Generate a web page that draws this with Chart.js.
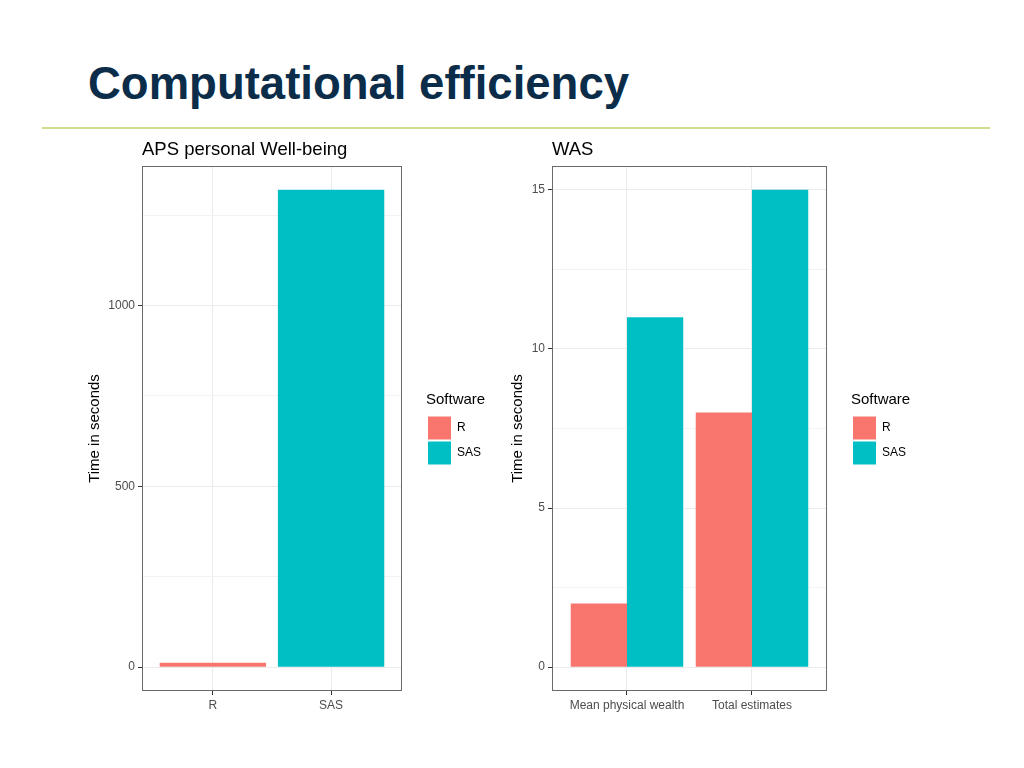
<!DOCTYPE html>
<html>
<head>
<meta charset="utf-8">
<script src="https://cdn.jsdelivr.net/npm/chart.js@4/dist/chart.umd.min.js"></script>
<style>
  body { margin: 0; background: #fff; width: 1024px; height: 768px; position: relative; overflow: hidden; }
  #slideTitle {
    position: absolute; left: 88px; top: 61px; margin: 0;
    font: bold 45.5px/45px "Liberation Sans", Arial, sans-serif; color: #0b2d4a;
  }
  #rule { position: absolute; left: 42px; top: 127px; width: 948px; height: 2px; background: #d3dc8a; }
  canvas { position: absolute; }
  #apsChart { left: 80px; top: 130px; }
  #wasChart { left: 503px; top: 130px; }
</style>
</head>
<body>
<h1 id="slideTitle">Computational efficiency</h1>
<div id="rule"></div>
<canvas id="apsChart" width="411" height="590"></canvas>
<canvas id="wasChart" width="413" height="590"></canvas>
<script>
const software = ["R", "SAS"];
const softwareColours = ["#F8766D", "#00BFC4"];

// APS personal Well-being: one bar per software
const apsCategories = ["R", "SAS"];
const apsTimes = [12, 1320];
const apsYTicks = [0, 250, 500, 750, 1000, 1250];
const apsYLabels = ["0", "", "500", "", "1000", ""];

// WAS: two tasks, dodged by software
const wasCategories = ["Mean physical wealth", "Total estimates"];
const wasR = [2, 8];
const wasSAS = [11, 15];
const wasYTicks = [0, 2.5, 5, 7.5, 10, 12.5, 15];
const wasYLabels = ["0", "", "5", "", "10", "", "15"];

Chart.defaults.font.family = "'Liberation Sans', Arial, sans-serif";
Chart.defaults.animation = false;

// panel border + title like ggplot theme_bw
const panelFrame = {
  id: "panelFrame",
  afterDatasetsDraw(chart, args, opts) {
    const { ctx, chartArea: a } = chart;
    ctx.save();
    ctx.strokeStyle = "#6a6a6a";
    ctx.lineWidth = 1;
    ctx.strokeRect(Math.round(a.left) + 0.5, Math.round(a.top) + 0.5,
      Math.round(a.width) - 1, Math.round(a.height) - 1);
    ctx.fillStyle = "#000";
    ctx.font = "18.5px 'Liberation Sans', Arial, sans-serif";
    ctx.textBaseline = "alphabetic";
    ctx.textAlign = "left";
    ctx.fillText(opts.text, a.left, a.top - 11);
    ctx.restore();
  }
};

function makeOptions(title, yTicks, yLabels, yMax, xLabels, yAxisWidth) {
  return {
    responsive: false,
    layout: { padding: { top: 36, right: 0, bottom: 0, left: 0 } },
    scales: {
      x: {
        type: "linear",
        min: 0.4,
        max: 0.4 + 2.2,
        offset: false,
        afterBuildTicks: s => { s.ticks = xLabels.map((_, i) => ({ value: i + 1 })); },
        afterFit: s => { s.height = 29; },
        ticks: {
          autoSkip: false, maxRotation: 0, padding: 3,
          color: "#4d4d4d", font: { size: 12 },
          callback: (v, i) => xLabels[i]
        },
        grid: { color: "#ebebeb", offset: false, tickLength: 4, tickColor: "#333" },
        border: { display: false }
      },
      y: {
        type: "linear",
        min: -0.05 * yMax,
        max: 1.05 * yMax,
        afterBuildTicks: s => { s.ticks = yTicks.map(v => ({ value: v })); },
        afterFit: s => { s.width = yAxisWidth; },
        ticks: {
          autoSkip: false, padding: 3,
          color: "#4d4d4d", font: { size: 12 },
          callback: (v, i) => yLabels[i]
        },
        grid: {
          color: c => (yLabels[c.index] ? "#ebebeb" : "#f2f2f2"),
          tickLength: 4,
          tickColor: c => (yLabels[c.index] ? "#333" : "rgba(0,0,0,0)")
        },
        border: { display: false },
        title: {
          display: true, text: "Time in seconds", color: "#000",
          font: { size: 15 }, padding: { top: 6, bottom: 0 }
        }
      },
      gap: {
        type: "linear",
        position: "right",
        ticks: { display: false },
        grid: { display: false },
        border: { display: false },
        afterFit: s => { s.width = 24; }
      }
    },
    plugins: {
      legend: {
        position: "right",
        align: "center",
        fullSize: false,
        title: {
          display: true, text: "Software", position: "start", color: "#000",
          font: { size: 15 }, padding: { top: 2, bottom: 4 }
        },
        labels: { boxWidth: 23, boxHeight: 23, padding: 2, color: "#000", font: { size: 12 } }
      },
      tooltip: { enabled: false },
      panelFrame: { text: title }
    }
  };
}

// APS chart: each software its own bar, not dodged
new Chart(document.getElementById("apsChart").getContext("2d"), {
  type: "bar",
  data: {
    datasets: software.map((name, i) => ({
      label: name,
      data: [{ x: apsCategories.indexOf(name) + 1, y: apsTimes[i] }],
      backgroundColor: softwareColours[i],
      borderWidth: 0,
      grouped: false,
      categoryPercentage: 0.9,
      barPercentage: 1
    }))
  },
  options: makeOptions("APS personal Well-being", apsYTicks, apsYLabels, Math.max(...apsTimes), apsCategories, 62),
  plugins: [panelFrame]
});

// WAS chart: dodged bars
const wasSeries = [wasR, wasSAS];
new Chart(document.getElementById("wasChart").getContext("2d"), {
  type: "bar",
  data: {
    datasets: software.map((name, i) => ({
      label: name,
      data: wasSeries[i].map((v, j) => ({ x: j + 1, y: v })),
      backgroundColor: softwareColours[i],
      borderWidth: 0,
      categoryPercentage: 0.9,
      barPercentage: 1
    }))
  },
  options: makeOptions("WAS", wasYTicks, wasYLabels, Math.max(...wasSAS), wasCategories, 49),
  plugins: [panelFrame]
});
</script>
</body>
</html>
